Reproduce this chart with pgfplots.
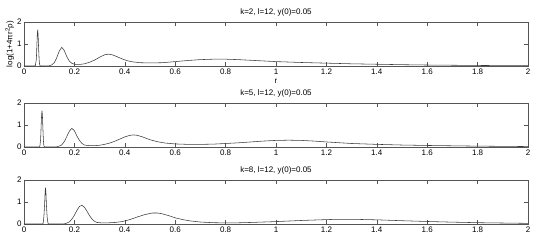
\documentclass[border=0pt]{standalone}
\usepackage{fontspec}
\setmainfont{Liberation Sans}
\usepackage{pgfplots}
\pgfplotsset{compat=1.18}
\definecolor{axc}{HTML}{555555}
\definecolor{lnc}{HTML}{3A3A3A}
\pgfplotsset{
  panel/.style={
    width=504pt, height=44pt, scale only axis,
    xmin=0, xmax=2, ymin=0, ymax=2,
    xtick={0,0.2,0.4,0.6,0.8,1,1.2,1.4,1.6,1.8,2},
    xticklabels={0,0.2,0.4,0.6,0.8,1,1.2,1.4,1.6,1.8,2},
    ytick={0,1,2}, yticklabels={0,1,2},
    tick align=inside, major tick length=4pt,
    axis line style={axc, line width=0.6pt},
    every tick/.style={axc, line width=0.5pt},
    tick label style={font=\fontsize{8}{9}\selectfont, text=black},
    xticklabel style={yshift=0.5pt},
    yticklabel style={xshift=1pt},
    title style={font=\fontsize{8}{9}\selectfont, yshift=-4pt},
    label style={font=\fontsize{8}{9}\selectfont},
    /pgf/number format/assume math mode=true,
    anchor=north west,
  },
  crv/.style={lnc, line width=0.55pt, mark=none},
}
\begin{document}
\begin{tikzpicture}
\begin{axis}[panel, at={(0pt,0pt)}, title={k=2, l=12, y(0)=0.05},
  xlabel={r}, xlabel style={yshift=2pt},
  ylabel={log(1+4πr\textsuperscript{2}ρ)}, ylabel style={yshift=-4pt}]
\addplot[crv] coordinates {
(0,0) (0.04,0) (0.045,0.02) (0.049,0.3) (0.051,0.9) (0.053,1.5) (0.0545,1.65) (0.056,1.4) (0.058,0.8) (0.060,0.3) (0.062,0.05) (0.065,0.0)
(0.09,0) (0.1,0.01) (0.11,0.05) (0.12,0.15) (0.13,0.38) (0.14,0.68) (0.15,0.85) (0.16,0.7) (0.17,0.42) (0.18,0.22) (0.19,0.12) (0.2,0.08)
(0.22,0.07) (0.24,0.1) (0.26,0.17) (0.28,0.27) (0.3,0.4) (0.32,0.51) (0.335,0.54) (0.35,0.51) (0.37,0.42) (0.39,0.32) (0.41,0.24) (0.43,0.19)
(0.46,0.15) (0.5,0.14) (0.55,0.15) (0.6,0.2) (0.65,0.25) (0.7,0.29) (0.75,0.31) (0.8,0.31) (0.85,0.29) (0.9,0.26) (1.0,0.2) (1.1,0.16)
(1.2,0.13) (1.3,0.1) (1.4,0.08) (1.5,0.06) (1.6,0.045) (1.7,0.035) (1.8,0.025) (1.9,0.018) (2,0.012)};
\end{axis}
\begin{axis}[panel, at={(0pt,-81pt)}, title={k=5, l=12, y(0)=0.05}]
\addplot[crv] coordinates {
(0,0) (0.06,0) (0.063,0.03) (0.066,0.35) (0.068,0.95) (0.070,1.5) (0.0715,1.65) (0.073,1.45) (0.075,0.85) (0.077,0.3) (0.079,0.04) (0.082,0)
(0.12,0) (0.13,0.01) (0.14,0.04) (0.15,0.1) (0.16,0.25) (0.17,0.48) (0.18,0.72) (0.19,0.85) (0.2,0.74) (0.21,0.5) (0.22,0.3) (0.23,0.16) (0.24,0.09)
(0.26,0.06) (0.28,0.06) (0.3,0.08) (0.32,0.12) (0.34,0.18) (0.36,0.26) (0.38,0.36) (0.40,0.46) (0.42,0.53) (0.435,0.55) (0.45,0.53) (0.47,0.46)
(0.5,0.33) (0.53,0.24) (0.56,0.18) (0.6,0.14) (0.65,0.12) (0.7,0.12) (0.75,0.13) (0.8,0.16) (0.85,0.19) (0.9,0.23) (0.95,0.27) (1.0,0.3)
(1.05,0.31) (1.1,0.3) (1.15,0.27) (1.2,0.23) (1.3,0.16) (1.4,0.12) (1.5,0.09) (1.6,0.07) (1.7,0.055) (1.8,0.04) (1.9,0.03) (2,0.02)};
\end{axis}
\begin{axis}[panel, at={(0pt,-158pt)}, title={k=8, l=12, y(0)=0.05}]
\addplot[crv] coordinates {
(0,0) (0.073,0) (0.076,0.03) (0.079,0.35) (0.082,0.95) (0.084,1.5) (0.0855,1.65) (0.087,1.45) (0.089,0.85) (0.092,0.3) (0.095,0.04) (0.098,0)
(0.15,0) (0.16,0.01) (0.17,0.04) (0.18,0.1) (0.19,0.22) (0.2,0.4) (0.21,0.62) (0.22,0.8) (0.23,0.85) (0.24,0.76) (0.25,0.58) (0.26,0.38) (0.27,0.22)
(0.28,0.12) (0.29,0.07) (0.31,0.05) (0.33,0.05) (0.36,0.07) (0.39,0.11) (0.42,0.2) (0.45,0.32) (0.48,0.43) (0.51,0.5) (0.53,0.5) (0.55,0.46)
(0.58,0.36) (0.6,0.28) (0.63,0.2) (0.66,0.14) (0.7,0.09) (0.75,0.06) (0.8,0.05) (0.85,0.055) (0.9,0.07) (0.95,0.09) (1.0,0.11) (1.1,0.16)
(1.2,0.2) (1.25,0.215) (1.3,0.215) (1.4,0.19) (1.5,0.15) (1.6,0.115) (1.7,0.085) (1.8,0.06) (1.9,0.045) (2,0.03)};
\end{axis}
\path (-24pt,22pt) rectangle (522pt,-220pt);
\end{tikzpicture}
\end{document}
